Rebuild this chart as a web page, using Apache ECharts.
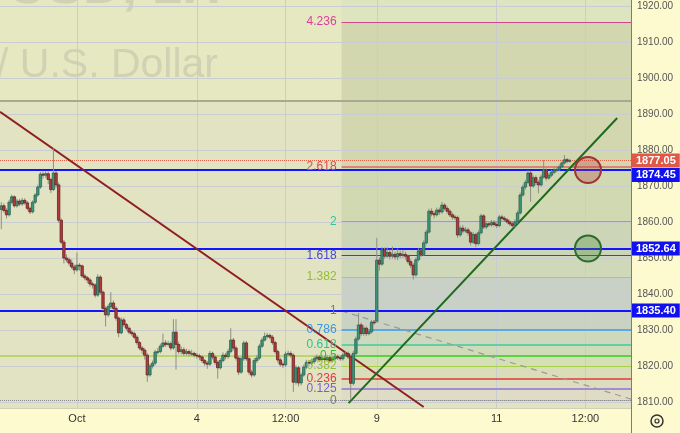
<!DOCTYPE html>
<html>
<head>
<meta charset="utf-8">
<script src="https://cdn.jsdelivr.net/npm/echarts@6/dist/echarts.min.js"></script>
<style>
html,body{margin:0;padding:0;background:#fefacf;}
#chart{width:680px;height:433px;}
</style>
</head>
<body>
<div id="chart"></div>
<script>
// ---------------- data ----------------
const sessionDays = [['09-28',18,23],['09-29',1,23],['10-02',1,23],['10-03',1,23],['10-04',1,23],['10-05',1,23],
  ['10-06',1,23],['10-09',1,23],['10-10',1,23],['10-11',1,23],['10-12',1,23],['10-13',1,6]];
const tickLabels = {'10-02 01:00':'Oct','10-04 01:00':'4','10-05 12:00':'12:00','10-09 01:00':'9','10-11 01:00':'11','10-12 12:00':'12:00'};
const priceTicks = [1810,1820,1830,1840,1850,1860,1870,1880,1890,1900,1910,1920];

const opens = [1863.5,1864.5,1863.2,1862.0,1865.5,1867.0,1864.5,1865.8,1865.0,1866.0,
1865.3,1863.8,1862.8,1865.5,1867.5,1869.7,1873.3,1873.0,1873.4,1871.8,
1869.0,1873.6,1870.3,1860.5,1854.4,1850.0,1849.5,1848.6,1847.5,1846.7,
1848.0,1847.8,1845.0,1844.5,1843.9,1842.8,1842.5,1839.7,1844.7,1840.5,
1836.0,1834.2,1836.5,1837.5,1836.0,1833.3,1829.2,1832.8,1831.5,1830.5,
1829.4,1829.0,1828.0,1826.5,1825.0,1824.4,1823.0,1817.5,1820.0,1820.8,
1823.9,1824.0,1825.5,1826.4,1826.0,1826.2,1825.0,1829.4,1826.0,1824.0,
1824.5,1823.5,1824.0,1823.5,1823.5,1823.0,1822.8,1822.5,1821.5,1820.8,
1820.5,1823.5,1822.5,1821.0,1819.5,1821.5,1823.0,1822.6,1824.0,1827.2,
1825.0,1822.2,1818.3,1822.0,1826.4,1822.0,1818.3,1817.5,1821.5,1822.2,
1825.5,1827.2,1828.2,1828.5,1828.0,1826.5,1824.0,1821.7,1820.5,1820.3,
1823.3,1823.5,1823.0,1815.5,1819.5,1815.3,1817.5,1819.7,1821.0,1820.8,
1821.2,1822.0,1822.5,1821.8,1822.2,1821.8,1822.3,1821.5,1822.0,1822.6,
1822.3,1822.0,1823.0,1823.5,1822.5,1815.2,1823.5,1827.5,1831.4,1829.0,
1830.5,1829.0,1829.5,1832.2,1832.5,1849.4,1848.3,1852.2,1850.5,1851.5,
1850.5,1851.0,1850.3,1851.2,1850.8,1851.0,1850.5,1849.0,1848.0,1845.3,
1849.5,1852.0,1851.0,1854.2,1857.2,1863.0,1862.3,1862.0,1863.3,1862.8,
1864.7,1863.8,1863.0,1862.0,1861.4,1861.2,1856.4,1858.3,1857.5,1857.8,
1857.0,1854.4,1856.5,1854.0,1857.0,1861.7,1858.6,1859.5,1859.2,1859.8,
1859.3,1859.0,1861.4,1861.0,1860.6,1860.0,1859.5,1859.0,1860.0,1862.5,
1867.5,1869.7,1871.0,1873.6,1870.0,1872.3,1871.0,1870.3,1872.5,1874.4,
1872.2,1873.0,1873.8,1874.3,1874.6,1875.3,1876.4,1877.3,1876.9];

const closes = [1864.5,1863.2,1862.0,1865.5,1867.0,1864.5,1865.8,1865.0,1866.0,1865.3,
1863.8,1862.8,1865.5,1867.5,1869.7,1873.3,1873.0,1873.4,1871.8,1869.0,
1873.6,1870.3,1860.5,1854.4,1850.0,1849.5,1848.6,1847.5,1846.7,1848.0,
1847.8,1845.0,1844.5,1843.9,1842.8,1842.5,1839.7,1844.7,1840.5,1836.0,
1834.2,1836.5,1837.5,1836.0,1833.3,1829.2,1832.8,1831.5,1830.5,1829.4,
1829.0,1828.0,1826.5,1825.0,1824.4,1823.0,1817.5,1820.0,1820.8,1823.9,
1824.0,1825.5,1826.4,1826.0,1826.2,1825.0,1829.4,1826.0,1824.0,1824.5,
1823.5,1824.0,1823.5,1823.5,1823.0,1822.8,1822.5,1821.5,1820.8,1820.5,
1823.5,1822.5,1821.0,1819.5,1821.5,1823.0,1822.6,1824.0,1827.2,1825.0,
1822.2,1818.3,1822.0,1826.4,1822.0,1818.3,1817.5,1821.5,1822.2,1825.5,
1827.2,1828.2,1828.5,1828.0,1826.5,1824.0,1821.7,1820.5,1820.3,1823.3,
1823.5,1823.0,1815.5,1819.5,1815.3,1817.5,1819.7,1821.0,1820.8,1821.2,
1822.0,1822.5,1821.8,1822.2,1821.8,1822.3,1821.5,1822.0,1822.6,1822.3,
1822.0,1823.0,1823.5,1822.5,1815.2,1823.5,1827.5,1831.4,1829.0,1830.5,
1829.0,1829.5,1832.2,1832.0,1849.4,1848.3,1852.2,1850.5,1851.5,1850.5,
1851.0,1850.3,1851.2,1850.8,1851.0,1850.5,1849.0,1848.0,1845.3,1849.5,
1852.0,1851.0,1854.2,1857.2,1863.0,1862.3,1862.0,1863.3,1862.8,1864.7,
1863.8,1863.0,1862.0,1861.4,1861.2,1856.4,1858.3,1857.5,1857.8,1857.0,
1854.4,1856.5,1854.0,1857.0,1861.7,1858.6,1859.5,1859.2,1859.8,1859.3,
1859.0,1861.4,1861.0,1860.6,1860.0,1859.5,1859.0,1860.0,1862.5,1867.5,
1869.7,1871.0,1873.6,1870.0,1872.3,1871.0,1870.3,1872.5,1874.4,1872.2,
1873.0,1873.8,1874.3,1874.6,1875.3,1876.4,1877.3,1876.9,1877.05];

const highs = [1865.5,1865.2,1863.8,1866.2,1867.6,1867.4,1866.5,1866.4,1866.7,1866.6,
1865.8,1864.3,1866.0,1868.0,1870.3,1873.9,1874.0,1874.1,1874.0,1872.3,
1880.5,1874.2,1871.0,1861.0,1855.0,1851.0,1850.2,1849.6,1848.2,1851.5,
1848.6,1848.2,1845.6,1845.0,1844.5,1843.4,1843.0,1845.5,1845.2,1841.0,
1836.6,1837.2,1840.5,1838.2,1836.6,1833.8,1833.5,1833.4,1832.0,1831.0,
1830.0,1829.6,1828.6,1827.0,1825.6,1825.0,1823.6,1820.6,1821.5,1824.5,
1825.0,1826.2,1829.0,1827.2,1827.0,1826.8,1833.0,1833.0,1826.8,1825.4,
1825.2,1824.8,1824.6,1824.5,1824.0,1823.6,1823.4,1823.0,1822.0,1821.4,
1824.2,1824.0,1823.0,1821.6,1822.2,1823.8,1823.6,1824.8,1830.5,1827.8,
1825.6,1822.8,1822.7,1827.0,1827.0,1822.6,1819.0,1822.2,1823.0,1826.2,
1827.9,1829.3,1829.2,1829.0,1828.6,1827.0,1824.6,1822.3,1821.2,1824.0,
1824.3,1824.1,1823.5,1820.2,1820.0,1818.2,1820.4,1821.7,1821.6,1822.0,
1822.7,1823.2,1823.0,1822.9,1822.8,1823.0,1822.9,1822.7,1823.3,1823.2,
1822.9,1823.7,1824.2,1824.0,1823.1,1824.2,1828.2,1834.7,1832.0,1831.3,
1831.0,1830.3,1832.8,1832.7,1855.6,1850.2,1853.0,1852.9,1853.0,1852.4,
1853.2,1851.8,1852.6,1852.0,1852.2,1851.8,1851.0,1849.7,1848.6,1850.2,
1852.7,1852.6,1854.9,1857.9,1863.7,1863.8,1863.0,1864.0,1864.0,1865.6,
1865.2,1864.4,1863.6,1862.6,1862.0,1861.8,1859.0,1859.2,1858.6,1858.4,
1857.5,1857.2,1857.0,1857.7,1862.3,1862.2,1860.2,1860.0,1860.6,1860.5,
1860.0,1862.0,1862.0,1861.6,1861.2,1860.6,1860.1,1860.7,1863.2,1868.2,
1870.4,1871.7,1874.4,1874.2,1873.0,1872.9,1871.6,1873.2,1877.2,1874.9,
1873.7,1874.5,1875.0,1875.2,1876.0,1877.0,1878.6,1877.8,1877.6];

const lows = [1858.0,1862.6,1861.0,1861.5,1865.0,1864.0,1864.0,1864.4,1864.5,1864.8,
1863.2,1862.2,1862.4,1865.0,1867.0,1869.2,1872.0,1872.3,1870.5,1868.0,
1868.6,1869.5,1859.8,1853.8,1848.5,1848.8,1847.8,1846.9,1845.5,1846.2,
1846.5,1844.5,1843.8,1843.0,1842.0,1841.5,1839.0,1839.2,1839.8,1835.3,
1831.0,1833.6,1835.8,1835.4,1832.6,1828.0,1828.8,1830.9,1829.9,1828.8,
1828.4,1827.4,1825.9,1824.4,1823.3,1821.8,1815.6,1817.0,1819.3,1820.2,
1823.2,1823.5,1825.0,1825.3,1825.4,1824.3,1824.5,1819.0,1823.3,1823.2,
1822.8,1822.9,1822.7,1822.8,1822.4,1822.0,1821.6,1820.8,1820.0,1819.2,
1820.0,1821.8,1820.3,1816.5,1819.0,1821.0,1821.8,1822.0,1823.5,1824.3,
1821.5,1817.5,1817.8,1821.4,1821.4,1817.6,1816.8,1817.0,1820.8,1821.7,
1825.0,1826.8,1827.6,1827.4,1825.9,1823.4,1821.0,1819.8,1819.4,1819.8,
1822.7,1822.3,1812.8,1814.8,1814.3,1814.6,1817.0,1819.1,1820.0,1820.2,
1820.6,1821.4,1821.2,1821.2,1821.1,1821.2,1820.9,1821.0,1821.5,1821.7,
1821.4,1821.5,1822.5,1821.9,1810.5,1814.6,1823.0,1827.0,1828.3,1828.4,
1828.3,1828.5,1829.0,1831.4,1832.0,1846.5,1847.8,1849.8,1850.0,1849.6,
1849.8,1849.5,1849.4,1849.9,1850.0,1849.6,1848.3,1847.2,1844.0,1844.8,
1849.0,1850.3,1850.5,1853.7,1856.8,1861.6,1861.0,1861.5,1862.0,1862.3,
1863.2,1862.3,1861.4,1860.6,1860.5,1855.6,1855.9,1856.8,1857.0,1856.2,
1853.5,1853.9,1853.0,1853.5,1856.5,1858.0,1858.0,1858.6,1858.7,1858.7,
1858.3,1858.5,1860.4,1860.0,1859.4,1858.9,1858.3,1858.5,1859.6,1862.0,
1867.0,1869.0,1870.5,1865.6,1869.5,1870.2,1868.0,1869.8,1872.0,1871.5,
1871.7,1872.5,1873.3,1873.8,1874.1,1874.9,1876.0,1876.3,1876.5];

// horizontal levels drawn across the pane
const lastPrice = 1877.05;
const blueLevels = [1874.45, 1852.64, 1835.40];
const grayLevel = 1893.6;
const limeLevel = 1822.8;
const lowLevel = 1810.5;
// fibonacci extension anchors (bar index, price)
const fibRatios = [0, 0.125, 0.236, 0.382, 0.5, 0.618, 0.786, 1, 1.382, 1.618, 2, 2.618, 4.236];
const fibFrom = 130.5, fibTo = 241.5, fibP0 = 1810.5, fibP1 = 1835.3;
// trend lines: [barIndex, price]
const redTrend = [[-0.5, 1890.6], [162.0, 1808.6]];
const greenTrend = [[133.2, 1809.7], [236.2, 1888.9]];
const grayDash = [[130.5, 1835.3], [241.5, 1810.8]];
// target circles
const targets = [[225, 1874.45], [225, 1852.64]];

// ---------------- styles ----------------
const FONT = '"Liberation Sans", Arial, sans-serif';
const fibStyles = [
  {c:'#8a8a8a', w:1, t:'dotted', l:'#7a7a7a'},
  {c:'#a58bd6', w:2, l:'#7f5ccc'},
  {c:'#e23a3a', w:1.5, l:'#e03a3a'},
  {c:'#a9d04a', w:1.2, l:'#97c02c'},
  {c:'#3ccf3c', w:1.5, l:'#2fbf2f'},
  {c:'#45c9a5', w:1.5, l:'#2fc090'},
  {c:'#5aa9e0', w:2, l:'#3a98e0'},
  {c:'#8a8a8a', w:1, l:'#7a7a7a'},
  {c:'#a9d04a', w:1.2, l:'#92be30'},
  {c:'#3a3ae8', w:1.2, l:'#4848d6'},
  {c:'#45c9b0', w:1.2, l:'#35c49c'},
  {c:'#e06464', w:1.5, l:'#e04848'},
  {c:'#d0488a', w:1.2, l:'#dc3f9c'}
];
const fibBands = ['#dedcc4','#dcdcbe','#d9ddb8','#d5dfb5','#d0dcb8','#cdd8bd','#cad2c3','#c9d0c6','#cfd8b8','#ccd5b8','#d0d9b2','#d3d7b0','#dce5c0'];

// ---------------- build ----------------
const categories = [];
sessionDays.forEach(([d, h0, h1]) => {
  for (let h = h0; h <= h1; h++) categories.push(d + ' ' + String(h).padStart(2, '0') + ':00');
});
const candleData = closes.map((c, i) => [i, opens[i], c, lows[i], highs[i]]);
const fibPrice = r => fibP0 + r * (fibP1 - fibP0);
const Y_MIN = 1808.33, Y_MAX = 1921.67;
const X_MIN = -0.5, X_MAX = categories.length - 0.5;

const bandAreas = [];
bandAreas.push([{coord: [X_MIN, grayLevel], itemStyle: {color: '#e6e8c1'}}, {coord: [fibFrom, Y_MAX]}]);
for (let k = 0; k < fibRatios.length; k++) {
  const lo = fibPrice(fibRatios[k]);
  const hi = k + 1 < fibRatios.length ? fibPrice(fibRatios[k + 1]) : Y_MAX;
  bandAreas.push([{coord: [fibFrom, lo], itemStyle: {color: fibBands[k]}}, {coord: [fibTo, hi]}]);
}

const gridLines = priceTicks.map(v => ({yAxis: v}))
  .concat(Object.keys(tickLabels).map(k => ({xAxis: k})));

const lineLbl = {show: false};
const drawLines = [];
drawLines.push({yAxis: limeLevel, lineStyle: {color: '#aad24e', width: 1.5, type: 'solid'}, label: lineLbl});
drawLines.push({yAxis: lowLevel, lineStyle: {color: '#8a8a8a', width: 1, type: 'dotted'}, label: lineLbl});
drawLines.push({yAxis: grayLevel, lineStyle: {color: '#a9a991', width: 2, type: 'solid'}, label: lineLbl});
fibRatios.forEach((r, k) => {
  const s = fibStyles[k];
  drawLines.push([{coord: [fibFrom, fibPrice(r)],
    lineStyle: {color: s.c, width: s.w, type: s.t || 'solid'},
    label: {show: true, position: 'start', formatter: String(r), color: s.l, fontSize: 12, fontFamily: FONT, distance: 5}},
    {coord: [fibTo, fibPrice(r)]}]);
});
drawLines.push([{coord: grayDash[0], lineStyle: {color: '#9a9a9a', width: 1.2, type: [6, 5]}, label: lineLbl}, {coord: grayDash[1]}]);
drawLines.push({yAxis: lastPrice, lineStyle: {color: '#e0604a', width: 1, type: 'dotted'},
  label: {show: true, position: 'end', formatter: lastPrice.toFixed(2), color: '#fff', backgroundColor: '#e05846',
    padding: [2, 4, 1, 4], fontSize: 11, fontWeight: 'bold', fontFamily: FONT, distance: 1}});
blueLevels.forEach((v, k) => {
  drawLines.push({yAxis: v, lineStyle: {color: '#1414ff', width: 2, type: 'solid'},
    label: {show: true, position: 'end', formatter: v.toFixed(2), color: '#fff', backgroundColor: '#1010f0',
      padding: [2, 4, 1, 4], fontSize: 11, fontWeight: 'bold', fontFamily: FONT, distance: 1, offset: k === 0 ? [0, 5] : [0, 0]}});
});
drawLines.push([{coord: redTrend[0], lineStyle: {color: '#8e1f1f', width: 2, type: 'solid'}, label: lineLbl}, {coord: redTrend[1]}]);
drawLines.push([{coord: greenTrend[0], lineStyle: {color: '#1f6a1f', width: 2, type: 'solid'}, label: lineLbl}, {coord: greenTrend[1]}]);

function renderCandle(params, api) {
  const i = api.value(0), o = api.value(1), c = api.value(2), l = api.value(3), h = api.value(4);
  const pO = api.coord([i, o]), pC = api.coord([i, c]), pL = api.coord([i, l]), pH = api.coord([i, h]);
  const x = pO[0], w = 2.4, up = c >= o;
  const top = Math.min(pO[1], pC[1]), bot = Math.max(pO[1], pC[1]);
  return {type: 'group', children: [
    {type: 'line', shape: {x1: x, y1: pH[1], x2: x, y2: pL[1]}, style: {stroke: '#8e8e86', lineWidth: 1}},
    {type: 'rect', shape: {x: x - w / 2, y: top, width: w, height: Math.max(bot - top, 0.8)},
      style: {fill: up ? '#3f957a' : '#b23c3c', stroke: up ? '#2b6552' : '#6a2222', lineWidth: 0.8}}
  ]};
}

const chart = echarts.init(document.getElementById('chart'));
chart.setOption({
  animation: false,
  backgroundColor: '#fefacf',
  grid: {left: 0, right: 49, top: 0, bottom: 25, show: true, backgroundColor: '#e2e3c3', borderWidth: 0, z: 0},
  xAxis: [{
    type: 'category', data: categories, boundaryGap: true,
    axisTick: {show: false}, splitLine: {show: false},
    axisLine: {show: true, lineStyle: {color: '#d2d0b4', width: 1}},
    axisLabel: {interval: (idx, val) => tickLabels[val] !== undefined, formatter: val => tickLabels[val] || '',
      color: '#333', fontSize: 11, fontFamily: FONT, margin: 5}
  }, {
    type: 'value', min: X_MIN, max: X_MAX, show: false, position: 'bottom', splitLine: {show: false}
  }],
  yAxis: {
    type: 'value', position: 'right', min: Y_MIN, max: Y_MAX, splitNumber: 11, scale: true,
    axisLine: {show: false}, axisTick: {show: false}, splitLine: {show: false},
    axisLabel: {color: '#555', fontSize: 10, fontFamily: FONT, margin: 6,
      formatter: v => Math.abs(v / 10 - Math.round(v / 10)) < 1e-6 ? v.toFixed(2) : ''}
  },
  graphic: [
    {type: 'text', z: 3, silent: true, style: {text: 'XAUUSD, 1H', x: 221, y: -12, align: 'right', verticalAlign: 'middle',
      font: 'bold 54px "Liberation Sans", Arial, sans-serif', fill: '#d0d2b3'}},
    {type: 'text', z: 3, silent: true, style: {text: 'Gold Spot / U.S. Dollar', x: 218, y: 66, align: 'right', verticalAlign: 'middle',
      font: '41px "Liberation Sans", Arial, sans-serif', fill: '#d0d2b3'}},
    {type: 'line', z: 10, silent: true, shape: {x1: 631.5, y1: 0, x2: 631.5, y2: 433}, style: {stroke: '#7d7d70', lineWidth: 1}},
    {type: 'circle', z: 10, silent: true, shape: {cx: 657, cy: 421, r: 6}, style: {fill: 'none', stroke: '#333', lineWidth: 1.5}},
    {type: 'circle', z: 10, silent: true, shape: {cx: 657, cy: 421, r: 2}, style: {fill: 'none', stroke: '#333', lineWidth: 1.2}}
  ],
  series: [
    {type: 'line', xAxisIndex: 1, data: [], z: 2, silent: true, clip: false,
      markArea: {silent: true, data: bandAreas}},
    {type: 'line', xAxisIndex: 0, data: [], z: 4, silent: true, clip: false,
      markLine: {silent: true, symbol: ['none', 'none'], animation: false,
        lineStyle: {color: '#c9cdd1', width: 1, type: 'solid'}, label: {show: false}, data: gridLines}},
    {type: 'custom', xAxisIndex: 0, z: 5, renderItem: renderCandle, data: candleData, encode: {x: 0, y: [1, 2, 3, 4]}, clip: true},
    {type: 'line', xAxisIndex: 1, data: [], z: 6, silent: true, clip: false,
      markLine: {silent: true, symbol: ['none', 'none'], animation: false, data: drawLines},
      markPoint: {silent: true, animation: false, label: {show: false}, data: [
        {coord: targets[0], symbol: 'circle', symbolSize: 26, itemStyle: {color: 'rgba(175,60,60,0.3)', borderColor: '#9e3434', borderWidth: 2}},
        {coord: targets[1], symbol: 'circle', symbolSize: 26, itemStyle: {color: 'rgba(70,135,50,0.3)', borderColor: '#2d6b2d', borderWidth: 2}}
      ]}}
  ]
});
</script>
</body>
</html>
